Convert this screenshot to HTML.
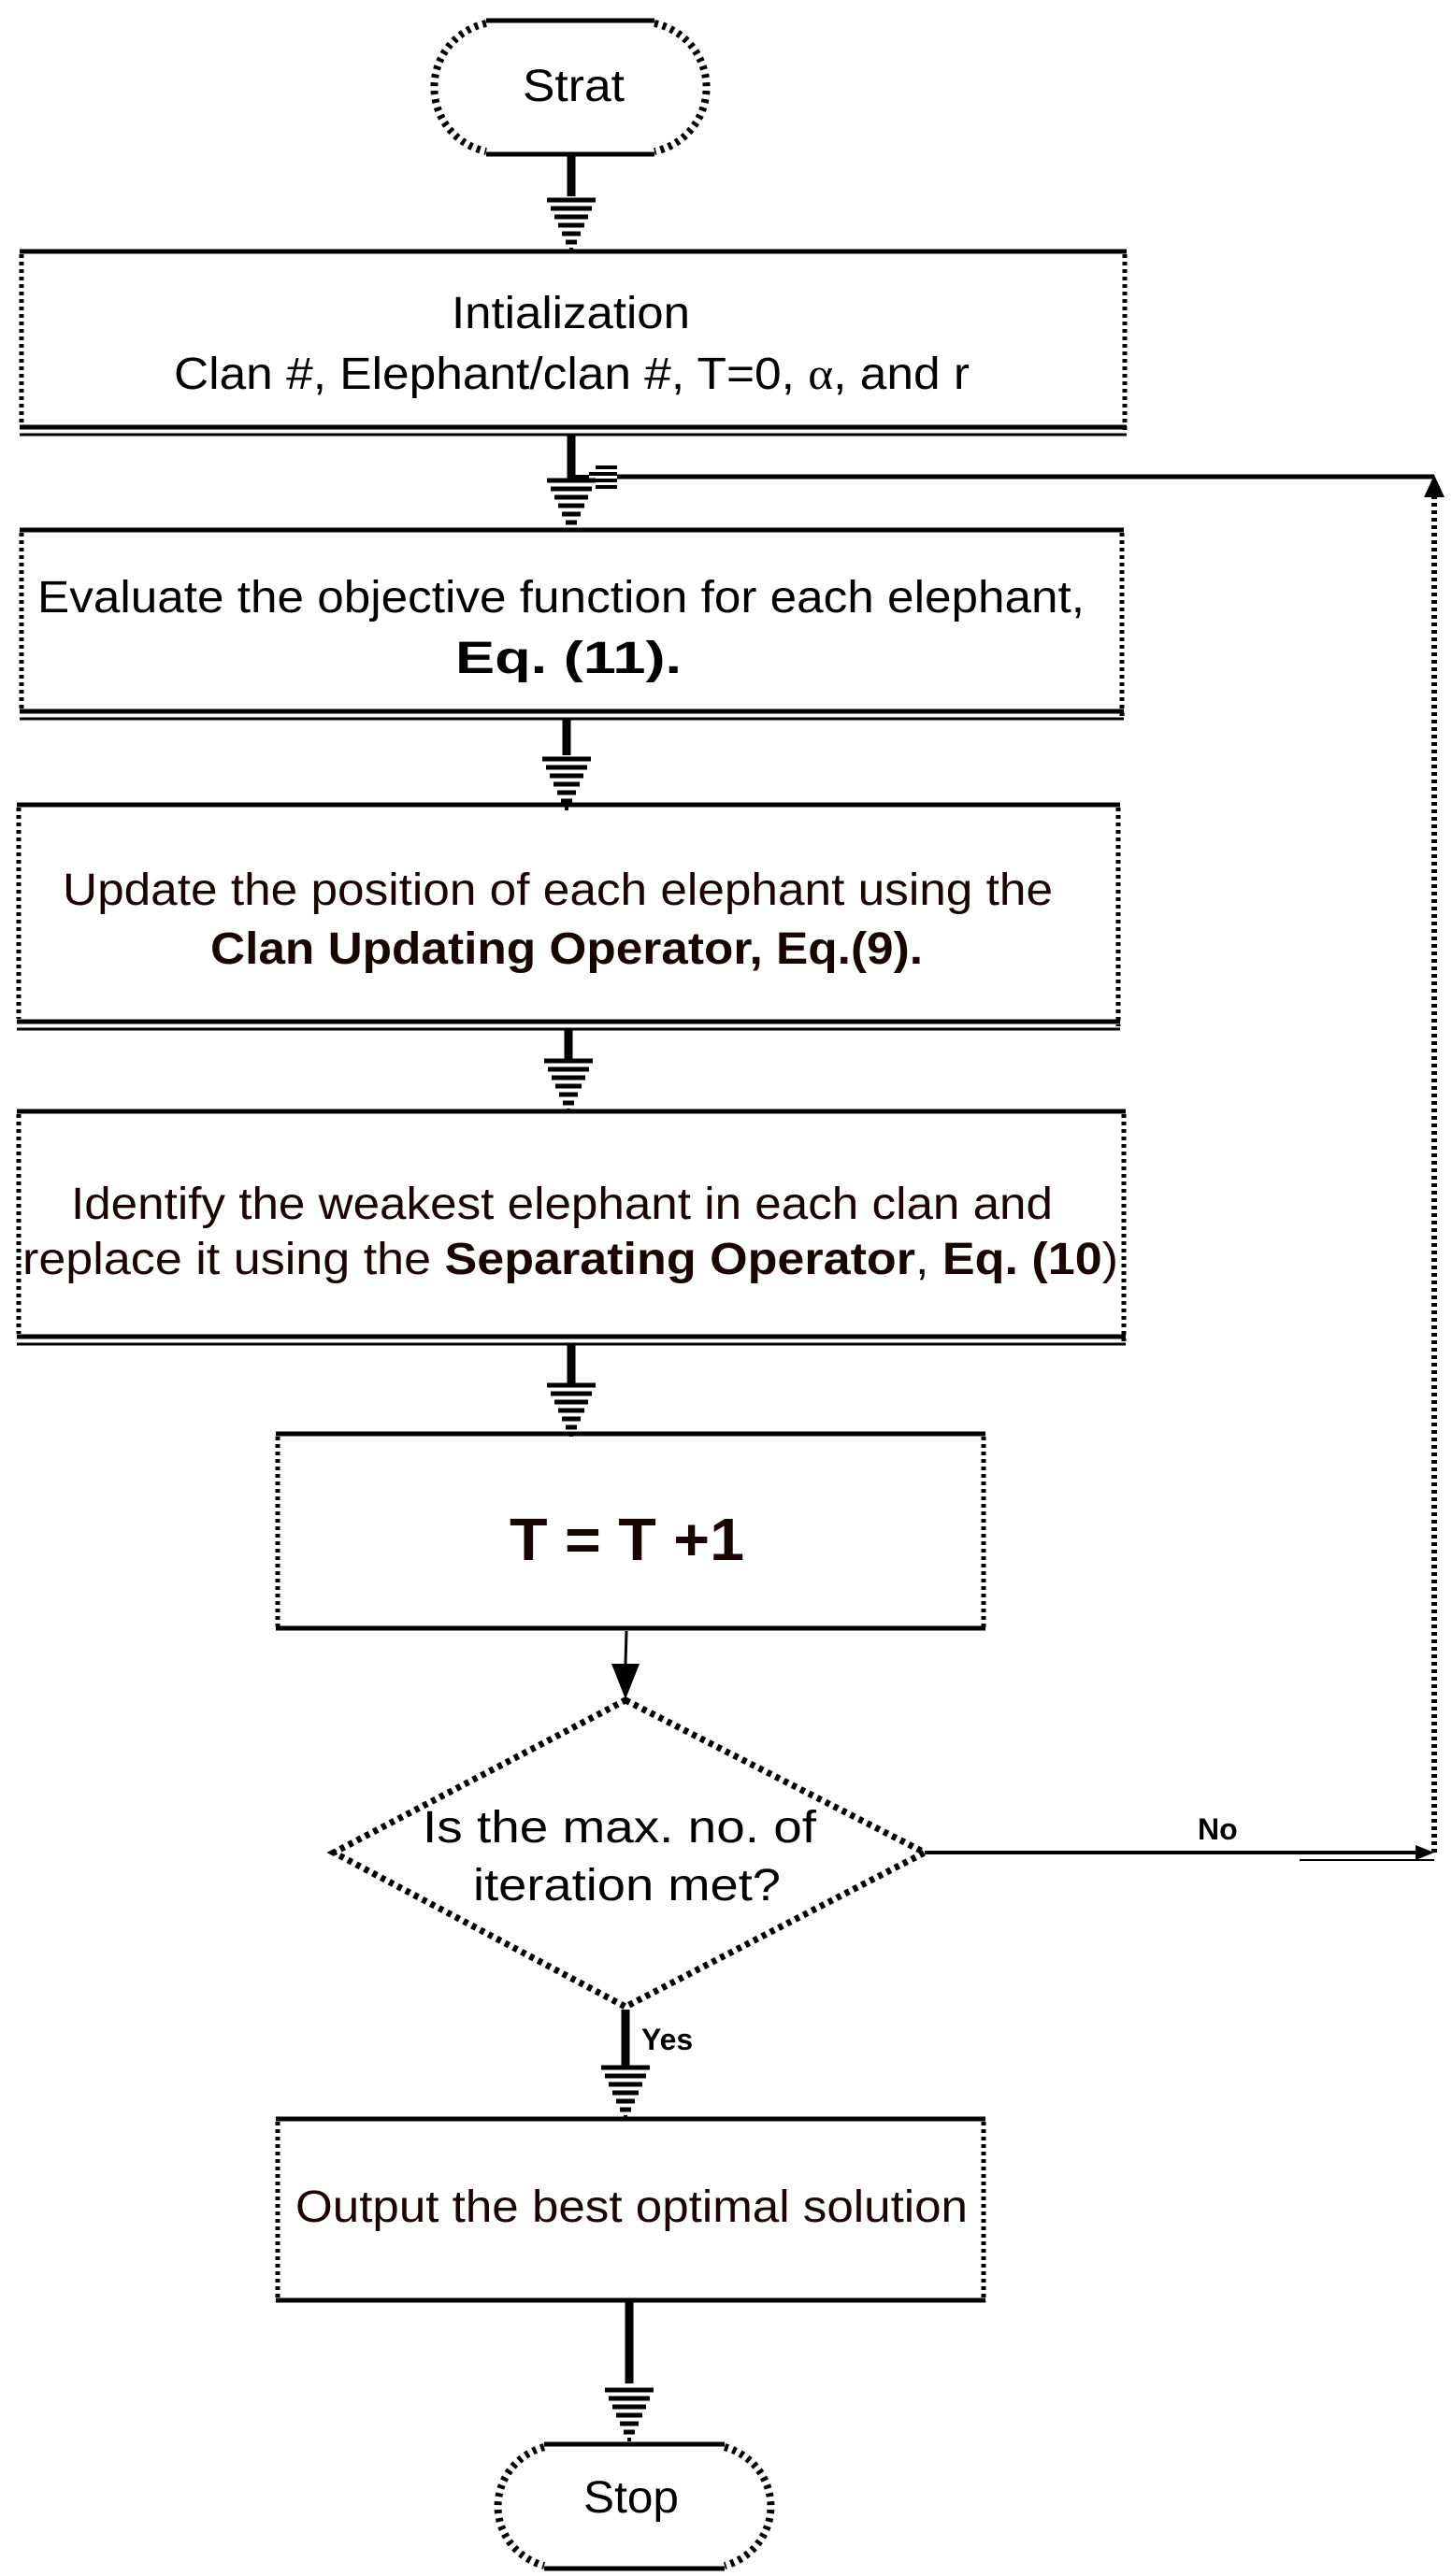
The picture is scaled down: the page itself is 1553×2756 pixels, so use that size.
<!DOCTYPE html>
<html><head><meta charset="utf-8"><style>
html,body{margin:0;padding:0;background:#fff;}
svg{display:block;}
text{font-family:"Liberation Sans",sans-serif;}
</style></head><body>
<svg width="1553" height="2756" viewBox="0 0 1553 2756" xmlns="http://www.w3.org/2000/svg">
<defs>
<g id="ah">
 <line x1="-26" y1="0" x2="26" y2="0" stroke="#000" stroke-width="5"/>
 <line x1="-22" y1="9" x2="22" y2="9" stroke="#000" stroke-width="5"/>
 <line x1="-18" y1="18" x2="18" y2="18" stroke="#000" stroke-width="5"/>
 <line x1="-14" y1="27" x2="14" y2="27" stroke="#000" stroke-width="5"/>
 <line x1="-10" y1="36" x2="10" y2="36" stroke="#000" stroke-width="5"/>
 <line x1="-6" y1="45" x2="6" y2="45" stroke="#000" stroke-width="5"/>
 <line x1="-2" y1="53" x2="2" y2="53" stroke="#000" stroke-width="4"/>
</g>
</defs>
<g fill="none" stroke="#000">
<!-- Start terminator -->
<line x1="520" y1="22" x2="700" y2="22" stroke-width="5"/>
<line x1="520" y1="165" x2="700" y2="165" stroke-width="5"/>
<path d="M520 25 A70 70 0 0 0 520 162" stroke-width="8" stroke-dasharray="4 5"/>
<path d="M700 25 A70 70 0 0 1 700 162" stroke-width="8" stroke-dasharray="4 5"/>
<line x1="611" y1="167" x2="611" y2="210" stroke-width="9"/>

<!-- Box1 -->
<line x1="21" y1="269" x2="1205" y2="269" stroke-width="5"/>
<line x1="21" y1="457" x2="1205" y2="457" stroke-width="5"/>
<line x1="21" y1="465" x2="1205" y2="465" stroke-width="3"/>
<line x1="23" y1="272" x2="23" y2="455" stroke-width="5" stroke-dasharray="4 4"/>
<line x1="1203" y1="272" x2="1203" y2="462" stroke-width="5" stroke-dasharray="4 4"/>
<line x1="611" y1="465" x2="611" y2="512" stroke-width="9"/>

<!-- feedback -->
<line x1="660" y1="510" x2="1534" y2="510" stroke-width="5"/>
<line x1="615" y1="510" x2="630" y2="510" stroke-width="4"/>
<line x1="1534" y1="530" x2="1534" y2="1985" stroke-width="6" stroke-dasharray="4 4"/>

<!-- Box2 -->
<line x1="21" y1="567" x2="1202" y2="567" stroke-width="5"/>
<line x1="21" y1="761" x2="1202" y2="761" stroke-width="5"/>
<line x1="21" y1="769" x2="1202" y2="769" stroke-width="3"/>
<line x1="23" y1="570" x2="23" y2="758" stroke-width="5" stroke-dasharray="4 4"/>
<line x1="1200" y1="570" x2="1200" y2="766" stroke-width="5" stroke-dasharray="4 4"/>
<line x1="606" y1="769" x2="606" y2="808" stroke-width="9"/>

<!-- Box3 -->
<line x1="18" y1="861" x2="1198" y2="861" stroke-width="5"/>
<line x1="18" y1="1093" x2="1198" y2="1093" stroke-width="5"/>
<line x1="18" y1="1101" x2="1198" y2="1101" stroke-width="3"/>
<line x1="20" y1="864" x2="20" y2="1090" stroke-width="5" stroke-dasharray="4 4"/>
<line x1="1196" y1="864" x2="1196" y2="1098" stroke-width="5" stroke-dasharray="4 4"/>
<line x1="608" y1="1101" x2="608" y2="1135" stroke-width="9"/>

<!-- Box4 -->
<line x1="18" y1="1189" x2="1204" y2="1189" stroke-width="5"/>
<line x1="18" y1="1430" x2="1204" y2="1430" stroke-width="5"/>
<line x1="18" y1="1438" x2="1204" y2="1438" stroke-width="3"/>
<line x1="20" y1="1192" x2="20" y2="1427" stroke-width="5" stroke-dasharray="4 4"/>
<line x1="1202" y1="1192" x2="1202" y2="1435" stroke-width="5" stroke-dasharray="4 4"/>
<line x1="611" y1="1438" x2="611" y2="1480" stroke-width="9"/>

<!-- Box5 -->
<line x1="295" y1="1534" x2="1054" y2="1534" stroke-width="5"/>
<line x1="295" y1="1742" x2="1054" y2="1742" stroke-width="5"/>
<line x1="297" y1="1537" x2="297" y2="1740" stroke-width="5" stroke-dasharray="4 4"/>
<line x1="1052" y1="1537" x2="1052" y2="1745" stroke-width="5" stroke-dasharray="4 4"/>
<line x1="670" y1="1745" x2="669" y2="1780" stroke-width="3"/>

<!-- Diamond -->
<path d="M669 1819 L989 1982 L669 2147 L357 1982 Z" stroke-width="7" stroke-dasharray="5 5"/>
<line x1="989" y1="1982" x2="1520" y2="1982" stroke-width="4"/>
<line x1="1390" y1="1990" x2="1534" y2="1990" stroke-width="2"/>
<line x1="669" y1="2150" x2="669" y2="2210" stroke-width="9"/>

<!-- Box6 -->
<line x1="295" y1="2267" x2="1054" y2="2267" stroke-width="5"/>
<line x1="295" y1="2461" x2="1054" y2="2461" stroke-width="5"/>
<line x1="297" y1="2270" x2="297" y2="2459" stroke-width="5" stroke-dasharray="4 4"/>
<line x1="1052" y1="2270" x2="1052" y2="2463" stroke-width="5" stroke-dasharray="4 4"/>
<line x1="673" y1="2463" x2="673" y2="2550" stroke-width="9"/>

<!-- Stop -->
<line x1="582" y1="2615" x2="775" y2="2615" stroke-width="5"/>
<line x1="582" y1="2748" x2="775" y2="2748" stroke-width="5"/>
<path d="M582 2618 A68 66 0 0 0 582 2745" stroke-width="8" stroke-dasharray="4 5"/>
<path d="M775 2618 A68 66 0 0 1 775 2745" stroke-width="8" stroke-dasharray="4 5"/>
</g>

<!-- arrowheads -->
<use href="#ah" x="611" y="214"/>
<use href="#ah" x="611" y="514"/>
<use href="#ah" x="606" y="812"/>
<use href="#ah" x="608" y="1135"/>
<use href="#ah" x="611" y="1482"/>
<use href="#ah" x="669" y="2212"/>
<use href="#ah" x="673" y="2557"/>
<!-- feedback left hatched head -->
<g stroke="#000" stroke-width="4">
 <line x1="637" y1="500" x2="660" y2="500"/>
 <line x1="630" y1="507" x2="660" y2="507"/>
 <line x1="630" y1="514" x2="660" y2="514"/>
 <line x1="637" y1="521" x2="660" y2="521"/>
</g>
<polygon points="1534,508 1523,532 1545,532" fill="#000"/>
<polygon points="1534,1982 1514,1974 1514,1990" fill="#000"/>
<polygon points="669,1818 654,1780 684,1780" fill="#000"/>

<!-- text -->
<g fill="#000" font-size="48">
<text x="559" y="108" textLength="109" lengthAdjust="spacingAndGlyphs">Strat</text>
<text x="483" y="351" textLength="255" lengthAdjust="spacingAndGlyphs">Intialization</text>
<text x="186" y="416" textLength="851" lengthAdjust="spacingAndGlyphs">Clan #, Elephant/clan #, T=0, <tspan font-family="Liberation Serif">α</tspan>, and r</text>
<text x="40" y="655" textLength="1120" lengthAdjust="spacingAndGlyphs">Evaluate the objective function for each elephant,</text>
<text x="487" y="720" font-weight="bold" textLength="242" lengthAdjust="spacingAndGlyphs">Eq. (11).</text>
</g>
<g fill="#1a0505" font-size="48">
<text x="67" y="968" textLength="1059" lengthAdjust="spacingAndGlyphs">Update the position of each elephant using the</text>
<text x="225" y="1031" font-weight="bold" textLength="762" lengthAdjust="spacingAndGlyphs">Clan Updating Operator, Eq.(9).</text>
<text x="76" y="1304" textLength="1050" lengthAdjust="spacingAndGlyphs">Identify the weakest elephant in each clan and</text>
<text x="24" y="1363" textLength="1172" lengthAdjust="spacingAndGlyphs">replace it using the <tspan font-weight="bold">Separating Operator</tspan>, <tspan font-weight="bold">Eq. (10</tspan>)</text>
<text x="545" y="1669" font-family="Liberation Serif" font-weight="bold" font-size="64" textLength="251" lengthAdjust="spacingAndGlyphs">T = T +1</text>
<text x="316" y="2377" textLength="719" lengthAdjust="spacingAndGlyphs">Output the best optimal solution</text>
</g>
<g fill="#000">
<text x="452" y="1971" font-size="48" textLength="421" lengthAdjust="spacingAndGlyphs">Is the max. no. of</text>
<text x="506" y="2033" font-size="48" textLength="329" lengthAdjust="spacingAndGlyphs">iteration met?</text>
<text x="1281" y="1968" font-size="32" font-weight="bold">No</text>
<text x="686" y="2193" font-size="32" font-weight="bold">Yes</text>
<text x="624" y="2688" font-size="48" textLength="102" lengthAdjust="spacingAndGlyphs">Stop</text>
</g>
</svg>
</body></html>
